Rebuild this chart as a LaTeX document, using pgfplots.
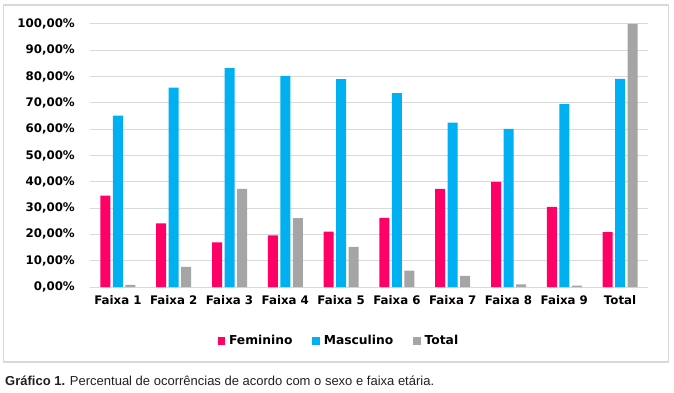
\documentclass[border=0pt]{standalone}
\usepackage{pgfplots}
\pgfplotsset{compat=1.18}
\usepackage{fontspec}
\setmainfont{DejaVu Sans}
\newfontfamily\capfont{Liberation Sans}
\definecolor{fem}{HTML}{FF0066}
\definecolor{mas}{HTML}{00B0F0}
\definecolor{tot}{HTML}{A5A5A5}
\definecolor{gridc}{HTML}{D9D9D9}
\definecolor{captxt}{HTML}{231F20}
\pgfplotsset{
  sqlegend/.style={legend image code/.code={\fill[##1,draw=none] (0bp,-3.6bp) rectangle (7.3bp,3.6bp);}}
}
\begin{document}
\begin{tikzpicture}[x=1bp,y=1bp]
\path[use as bounding box] (0,0) rectangle (674,392);
\draw[gridc, line width=1.2bp] (3.5,387) rectangle (668.5,30);
\begin{axis}[
  at={(90bp,105bp)}, anchor=south west,
  scale only axis, width=558bp, height=263bp,
  ymin=0, ymax=100, xmin=-0.5, xmax=9.5,
  ybar=2.5bp, bar width=10bp,
  axis x line*=bottom, axis y line*=left,
  y axis line style={draw=none},
  x axis line style={draw=gridc, line width=1bp},
  major tick length=0pt,
  ymajorgrids, grid style={draw=gridc, line width=1bp},
  xtick={0,...,9},
  xticklabels={Faixa 1,Faixa 2,Faixa 3,Faixa 4,Faixa 5,Faixa 6,Faixa 7,Faixa 8,Faixa 9,Total},
  ytick={0,10,...,100},
  yticklabels={{0,00\%},{10,00\%},{20,00\%},{30,00\%},{40,00\%},{50,00\%},{60,00\%},{70,00\%},{80,00\%},{90,00\%},{100,00\%}},
  tick label style={font=\fontsize{11.8bp}{14bp}\selectfont\bfseries},
  yticklabel style={anchor=east, inner sep=0pt, xshift=-15bp},
  xticklabel style={anchor=north, inner sep=0pt, yshift=-8.5bp},
  legend style={at={(0.448,-0.205)}, anchor=center, draw=none, fill=none,
    legend columns=3, font=\fontsize{12.3bp}{14bp}\selectfont\bfseries,
    /tikz/every even column/.append style={column sep=16bp},
    legend cell align=left, inner sep=0pt,
    nodes={inner xsep=4bp}},
]
\addplot[fill=fem, draw=none, sqlegend] coordinates {(0,34.7) (1,24.2) (2,17.0) (3,19.6) (4,21.1) (5,26.3) (6,37.3) (7,40.0) (8,30.5) (9,20.9)};
\addplot[fill=mas, draw=none, sqlegend] coordinates {(0,65.2) (1,75.8) (2,83.2) (3,80.3) (4,79.0) (5,73.7) (6,62.5) (7,60.1) (8,69.5) (9,79.1)};
\addplot[fill=tot, draw=none, sqlegend] coordinates {(0,0.8) (1,7.7) (2,37.3) (3,26.2) (4,15.3) (5,6.2) (6,4.2) (7,1.0) (8,0.5) (9,100)};
\legend{Feminino,Masculino,Total}
\end{axis}
\node[anchor=base west, inner sep=0pt, text=captxt, font=\capfont\fontsize{13bp}{15bp}\selectfont] at (5,7) {\textbf{Gráfico 1.} Percentual de ocorrências de acordo com o sexo e faixa etária.};
\end{tikzpicture}
\end{document}
